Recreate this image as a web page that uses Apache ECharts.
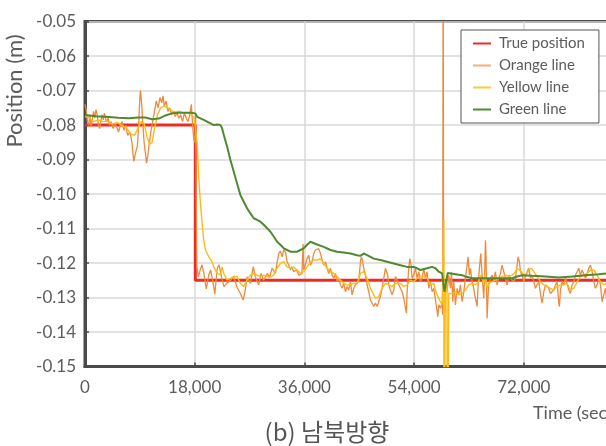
<!DOCTYPE html>
<html>
<head>
<meta charset="utf-8">
<script src="https://cdn.jsdelivr.net/npm/echarts@6/dist/echarts.min.js"></script>
<style>
html,body{margin:0;padding:0;background:#fff;}
#chart{width:606px;height:446px;}
</style>
</head>
<body>
<div id="chart"></div>
<script>
// ---- data (time in sec, position in m) ----
var xTicks = [0, 18000, 36000, 54000, 72000, 90000];
var yTicks = [-0.15, -0.14, -0.13, -0.12, -0.11, -0.10, -0.09, -0.08, -0.07, -0.06, -0.05];

var truePosition = [[0,-0.080],[18100,-0.080],[18100,-0.125],[90000,-0.125]];

var orangeLine = [
[0,-0.0740],[200,-0.0755],[400,-0.0790],[600,-0.0800],[800,-0.0770],[1000,-0.0805],[1200,-0.0785],[1400,-0.0760],[1600,-0.0780],[1800,-0.0755],
[2000,-0.0770],[2200,-0.0800],[2400,-0.0810],[2600,-0.0790],[2800,-0.0770],[3000,-0.0785],[3200,-0.0765],[3500,-0.0790],[3800,-0.0780],[4000,-0.0800],
[4300,-0.0790],[4600,-0.0810],[4900,-0.0795],[5200,-0.0805],[5500,-0.0820],[5800,-0.0800],[6100,-0.0790],[6400,-0.0815],[6700,-0.0800],[7000,-0.0830],
[7400,-0.0820],[7700,-0.0850],[8000,-0.0905],[8300,-0.0880],[8600,-0.0860],[8800,-0.0800],[9000,-0.0720],[9100,-0.0700],[9300,-0.0740],[9500,-0.0800],
[9700,-0.0850],[9900,-0.0880],[10100,-0.0910],[10300,-0.0890],[10500,-0.0860],[10800,-0.0820],[11100,-0.0790],[11400,-0.0760],[11700,-0.0730],[12000,-0.0750],
[12300,-0.0720],[12600,-0.0735],[12800,-0.0715],[13000,-0.0745],[13300,-0.0730],[13600,-0.0760],[13900,-0.0750],[14200,-0.0770],[14500,-0.0760],[14800,-0.0775],
[15100,-0.0765],[15400,-0.0780],[15700,-0.0770],[16000,-0.0790],[16300,-0.0765],[16600,-0.0780],[16900,-0.0790],[17200,-0.0770],[17450,-0.0740],[17650,-0.0800],
[17850,-0.0840],[18000,-0.0850],[18150,-0.0770],[18350,-0.1210],[18600,-0.1240],[18900,-0.1220],[19200,-0.1205],[19500,-0.1230],[19900,-0.1275],[20300,-0.1235],
[20600,-0.1220],[21000,-0.1255],[21300,-0.1290],[21700,-0.1215],[22000,-0.1205],[22400,-0.1240],[22800,-0.1268],[23300,-0.1258],[23900,-0.1250],[24400,-0.1240],
[24950,-0.1270],[25500,-0.1288],[25950,-0.1307],[26300,-0.1278],[26600,-0.1240],[27150,-0.1259],[27600,-0.1210],[27950,-0.1240],[28500,-0.1263],[28900,-0.1230],
[29300,-0.1250],[29900,-0.1230],[30300,-0.1240],[30700,-0.1215],[31250,-0.1230],[31500,-0.1200],[31800,-0.1172],[32050,-0.1165],[32350,-0.1182],[32600,-0.1162],
[32900,-0.1168],[33150,-0.1196],[33450,-0.1206],[33700,-0.1220],[33950,-0.1211],[34250,-0.1225],[34700,-0.1220],[35100,-0.1235],[35600,-0.1230],[35780,-0.1145],
[35900,-0.1220],[36168,-0.1215],[36441,-0.1187],[36714,-0.1177],[36988,-0.1206],[37261,-0.1196],[37535,-0.1172],[37809,-0.1162],[38082,-0.1167],[38356,-0.1158],
[38629,-0.1172],[38903,-0.1191],[39176,-0.1206],[39450,-0.1196],[39723,-0.1215],[39997,-0.1230],[40270,-0.1215],[40544,-0.1235],[40817,-0.1244],[41091,-0.1230],
[41364,-0.1254],[41638,-0.1244],[41911,-0.1263],[42185,-0.1273],[42458,-0.1259],[42732,-0.1283],[43005,-0.1268],[43279,-0.1278],[43552,-0.1254],[43826,-0.1292],
[44099,-0.1273],[44373,-0.1263],[44646,-0.1259],[44920,-0.1254],[45193,-0.1196],[45357,-0.1182],[45521,-0.1191],[45740,-0.1215],[46014,-0.1235],[46287,-0.1263],
[46561,-0.1283],[46834,-0.1307],[47108,-0.1312],[47381,-0.1326],[47655,-0.1316],[47928,-0.1326],[48202,-0.1312],[48475,-0.1297],[48749,-0.1273],[49022,-0.1244],
[49296,-0.1215],[49460,-0.1215],[49679,-0.1235],[49843,-0.1263],[50116,-0.1278],[50390,-0.1292],[50663,-0.1278],[50937,-0.1239],[51210,-0.1244],[51484,-0.1263],
[51757,-0.1273],[52031,-0.1283],[52304,-0.1302],[52578,-0.1330],[52742,-0.1345],[52851,-0.1283],[53125,-0.1215],[53289,-0.1187],[53507,-0.1206],[53671,-0.1244],
[53945,-0.1235],[54218,-0.1215],[54492,-0.1244],[54765,-0.1225],[55039,-0.1254],[55313,-0.1244],[55586,-0.1215],[55860,-0.1244],[56133,-0.1225],[56407,-0.1273],
[56680,-0.1254],[56954,-0.1283],[57227,-0.1273],[57501,-0.1307],[57774,-0.1340],[57884,-0.1355],[58048,-0.1321],[58321,-0.1331],[58595,-0.1316],[58700,-0.1350],
[58760,-0.0200],[58850,-0.1260],[59142,-0.1268],[59416,-0.1283],[59689,-0.1235],[59963,-0.1273],[60127,-0.1225],[60345,-0.1312],[60510,-0.1254],[60783,-0.1321],
[61057,-0.1273],[61330,-0.1292],[61604,-0.1263],[61877,-0.1312],[62151,-0.1283],[62424,-0.1244],[62698,-0.1206],[62862,-0.1182],[63080,-0.1235],[63245,-0.1215],
[63518,-0.1254],[63792,-0.1273],[64065,-0.1302],[64339,-0.1326],[64503,-0.1263],[64721,-0.1215],[64940,-0.1172],[65159,-0.1235],[65433,-0.1302],[65597,-0.1215],
[65706,-0.1134],[65815,-0.1187],[65980,-0.1360],[66144,-0.1292],[66253,-0.1263],[66527,-0.1244],[66800,-0.1235],[67074,-0.1249],[67347,-0.1225],[67621,-0.1263],
[67894,-0.1244],[68168,-0.1230],[68441,-0.1206],[68715,-0.1211],[68988,-0.1244],[69262,-0.1263],[69535,-0.1235],[69809,-0.1244],[70082,-0.1239],[70356,-0.1254],
[70629,-0.1244],[70903,-0.1206],[71067,-0.1182],[71285,-0.1196],[71450,-0.1225],[71723,-0.1235],[71997,-0.1254],[72270,-0.1239],[72544,-0.1225],[72817,-0.1215],
[73091,-0.1244],[73364,-0.1235],[73638,-0.1254],[73911,-0.1273],[74185,-0.1263],[74458,-0.1254],[74732,-0.1288],[75005,-0.1316],[75279,-0.1283],[75552,-0.1263],
[75826,-0.1259],[76099,-0.1273],[76373,-0.1288],[76646,-0.1292],[76920,-0.1278],[77193,-0.1263],[77467,-0.1254],[77740,-0.1316],[77849,-0.1326],[78014,-0.1278],
[78287,-0.1254],[78561,-0.1263],[78834,-0.1244],[79108,-0.1259],[79381,-0.1278],[79655,-0.1288],[79928,-0.1263],[80202,-0.1254],[80475,-0.1235],[80749,-0.1225],
[81022,-0.1215],[81296,-0.1235],[81569,-0.1220],[81843,-0.1225],[82116,-0.1244],[82390,-0.1230],[82663,-0.1215],[82937,-0.1206],[83210,-0.1225],[83484,-0.1254],
[83757,-0.1273],[84031,-0.1263],[84304,-0.1244],[84578,-0.1263],[84851,-0.1312],[85125,-0.1292],[85398,-0.1273],[85562,-0.1302],[86000,-0.1290]
];

var yellowLine = [
[0,-0.0775],[700,-0.0778],[1400,-0.0790],[2200,-0.0785],[3000,-0.0790],[3700,-0.0788],[4500,-0.0797],[5300,-0.0792],[6000,-0.0800],[6800,-0.0808],
[7500,-0.0825],[8100,-0.0830],[8700,-0.0810],[9200,-0.0790],[9700,-0.0795],[10200,-0.0835],[10600,-0.0855],[11000,-0.0850],[11400,-0.0810],[11900,-0.0770],
[12400,-0.0750],[13000,-0.0745],[13600,-0.0750],[14200,-0.0758],[14800,-0.0762],[15500,-0.0760],[16200,-0.0765],[16900,-0.0765],[17400,-0.0770],[17800,-0.0775],
[18100,-0.0800],[18400,-0.0852],[18664,-0.0949],[18937,-0.1026],[19211,-0.1084],[19484,-0.1133],[19758,-0.1162],[20305,-0.1181],[20852,-0.1196],[21125,-0.1211],
[21672,-0.1229],[22219,-0.1234],[22493,-0.1211],[22766,-0.1230],[23313,-0.1249],[23860,-0.1244],[24407,-0.1239],[24954,-0.1239],[25501,-0.1259],[26048,-0.1268],
[26595,-0.1249],[27142,-0.1235],[27689,-0.1230],[28236,-0.1235],[28783,-0.1239],[29330,-0.1235],[29877,-0.1239],[30424,-0.1241],[30971,-0.1235],[31518,-0.1215],
[32065,-0.1201],[32612,-0.1196],[33159,-0.1211],[33706,-0.1215],[34253,-0.1211],[34800,-0.1220],[35347,-0.1230],[35894,-0.1225],[36441,-0.1211],[36988,-0.1198],
[37535,-0.1191],[38082,-0.1191],[38629,-0.1188],[39176,-0.1201],[39723,-0.1215],[40270,-0.1225],[40817,-0.1230],[41364,-0.1239],[41911,-0.1249],[42458,-0.1259],
[43005,-0.1263],[43552,-0.1263],[44099,-0.1259],[44646,-0.1259],[44920,-0.1254],[45193,-0.1230],[45740,-0.1225],[46287,-0.1244],[46834,-0.1273],[47381,-0.1292],
[47655,-0.1302],[48202,-0.1297],[48749,-0.1273],[49296,-0.1259],[49843,-0.1263],[50390,-0.1268],[50937,-0.1259],[51210,-0.1263],[51757,-0.1259],[52304,-0.1268],
[52851,-0.1263],[53398,-0.1249],[53945,-0.1254],[54492,-0.1244],[55039,-0.1239],[55586,-0.1239],[56133,-0.1244],[56680,-0.1263],[57227,-0.1259],[57501,-0.1278],
[57774,-0.1292],[58321,-0.1312],[58595,-0.1321],[58880,-0.1075],[58910,-0.2000],[59120,-0.1290],[59400,-0.1250],[59450,-0.2000],[59689,-0.1288],[60236,-0.1288],
[60783,-0.1283],[61330,-0.1292],[61877,-0.1288],[62424,-0.1278],[62971,-0.1263],[63518,-0.1259],[64065,-0.1263],[64612,-0.1254],[64886,-0.1235],[65159,-0.1244],
[65433,-0.1259],[65597,-0.1235],[65980,-0.1273],[66253,-0.1259],[66800,-0.1254],[67347,-0.1249],[67894,-0.1244],[68441,-0.1239],[68988,-0.1235],[69535,-0.1239],
[70082,-0.1235],[70629,-0.1225],[70903,-0.1215],[71176,-0.1220],[71614,-0.1225],[71997,-0.1235],[72544,-0.1230],[72817,-0.1220],[73255,-0.1215],[73638,-0.1225],
[74185,-0.1239],[74732,-0.1254],[75279,-0.1263],[75826,-0.1268],[76373,-0.1273],[76920,-0.1278],[77467,-0.1268],[78014,-0.1263],[78561,-0.1263],[79108,-0.1259],
[79655,-0.1278],[80202,-0.1273],[80749,-0.1254],[81296,-0.1239],[81843,-0.1235],[82390,-0.1230],[82937,-0.1220],[83210,-0.1215],[83484,-0.1220],[84031,-0.1235],
[84578,-0.1254],[85125,-0.1263],[85562,-0.1259],[86000,-0.1262]
];

var greenLine = [
[0,-0.0771],[1700,-0.0774],[3350,-0.0776],[5500,-0.0779],[7200,-0.0780],[8800,-0.0778],[9900,-0.0778],[11000,-0.0783],[12100,-0.0781],[13200,-0.0772],
[14300,-0.0766],[15400,-0.0764],[16500,-0.0764],[17500,-0.0764],[18100,-0.0766],[18390,-0.0776],[19484,-0.0785],[20578,-0.0795],[21125,-0.0800],[21672,-0.0798],
[22219,-0.0800],[22493,-0.0809],[22766,-0.0828],[23313,-0.0862],[23860,-0.0901],[24407,-0.0935],[24954,-0.0969],[25501,-0.1003],[26048,-0.1022],[26595,-0.1041],
[27142,-0.1056],[27689,-0.1070],[28236,-0.1075],[28783,-0.1080],[29330,-0.1089],[29877,-0.1099],[30424,-0.1109],[30971,-0.1123],[31518,-0.1138],[32065,-0.1147],
[32612,-0.1157],[33159,-0.1162],[33706,-0.1167],[34253,-0.1167],[34800,-0.1167],[35347,-0.1162],[35894,-0.1157],[36441,-0.1147],[36988,-0.1138],[38082,-0.1146],
[39176,-0.1153],[40270,-0.1162],[41364,-0.1167],[42458,-0.1169],[43552,-0.1172],[44646,-0.1177],[45193,-0.1179],[45740,-0.1172],[46287,-0.1177],[47381,-0.1187],
[48475,-0.1191],[49569,-0.1196],[50663,-0.1201],[51757,-0.1206],[52851,-0.1211],[53945,-0.1211],[54492,-0.1215],[55039,-0.1220],[56133,-0.1215],[56954,-0.1211],
[57501,-0.1215],[58048,-0.1225],[58595,-0.1230],[58900,-0.1232],[58978,-0.1283],[59300,-0.1280],[59500,-0.1229],[61877,-0.1235],[62424,-0.1239],[63518,-0.1244],
[66000,-0.1244],[68000,-0.1244],[70082,-0.1244],[70903,-0.1239],[71723,-0.1235],[73364,-0.1237],[75552,-0.1239],[77740,-0.1242],[79928,-0.1239],[82116,-0.1235],
[84304,-0.1232],[85562,-0.1230],[86500,-0.1230]
];

var seriesNames = ['True position', 'Orange line', 'Yellow line', 'Green line'];
var yAxisTitle = 'Position (m)';
var xAxisTitle = 'Time (sec)';
var captionText = '(b) 남북방향';

// ---- chart ----
var chart = echarts.init(document.getElementById('chart'), null, {renderer: 'canvas'});
var latin = 'Lato, "Noto Sans", sans-serif';
var labelColor = '#5c5c5c';

var option = {
  animation: false,
  backgroundColor: '#ffffff',
  grid: {
    left: 85, top: 21.6, width: 548.5, height: 345,
    containLabel: false, outerBoundsMode: 'none',
    show: true, borderColor: '#4a4a4a', borderWidth: 3, backgroundColor: 'transparent'
  },
  xAxis: {
    type: 'value',
    min: xTicks[0], max: xTicks[xTicks.length - 1], interval: 18000,
    axisLine: {show: true, lineStyle: {color: '#4a4a4a', width: 3}},
    axisTick: {show: true, inside: true, length: 4, lineStyle: {color: '#4a4a4a', width: 1.5}},
    splitLine: {show: true, lineStyle: {color: '#d9d9d9', width: 1.5}},
    axisLabel: {
      color: labelColor, fontFamily: latin, fontSize: 17, margin: 12,
      formatter: function (v) { return v.toLocaleString('en-US'); }
    }
  },
  yAxis: {
    type: 'value',
    min: yTicks[0], max: yTicks[yTicks.length - 1], interval: 0.01,
    axisLine: {show: true, lineStyle: {color: '#4a4a4a', width: 3}},
    axisTick: {show: true, inside: true, length: 4, lineStyle: {color: '#4a4a4a', width: 1.5}},
    splitLine: {show: true, lineStyle: {color: '#d9d9d9', width: 1.5}},
    axisLabel: {
      color: labelColor, fontFamily: latin, fontSize: 17, margin: 9,
      formatter: function (v) { return v.toFixed(2); }
    }
  },
  legend: {
    orient: 'vertical',
    left: 461, top: 30,
    padding: [6, 14, 6, 12],
    itemGap: 7,
    itemWidth: 18, itemHeight: 2,
    backgroundColor: '#ffffff',
    borderColor: '#555555', borderWidth: 1, borderRadius: 0,
    icon: 'rect',
    textStyle: {color: labelColor, fontFamily: latin, fontSize: 15, padding: [0, 0, 0, 3]},
    data: [
      {name: seriesNames[0], itemStyle: {color: '#ee2a24'}},
      {name: seriesNames[1], itemStyle: {color: '#f4ad82'}},
      {name: seriesNames[2], itemStyle: {color: '#fbc93a'}},
      {name: seriesNames[3], itemStyle: {color: '#4e8a30'}}
    ]
  },
  graphic: [
    {type: 'text', x: 15, y: 91, rotation: Math.PI / 2,
     style: {text: yAxisTitle, fill: labelColor, font: '22px Lato, "Noto Sans", sans-serif', textAlign: 'center', textVerticalAlign: 'middle'}},
    {type: 'text', x: 533, y: 413,
     style: {text: xAxisTitle, fill: labelColor, font: '18px Lato, "Noto Sans", sans-serif', textAlign: 'left', textVerticalAlign: 'middle'}},
    {type: 'text', x: 327, y: 432,
     style: {text: captionText, fill: '#555555', font: '24px "Noto Sans CJK KR", "Noto Sans", sans-serif', textAlign: 'center', textVerticalAlign: 'middle'}}
  ],
  series: [
    {name: seriesNames[0], type: 'line', data: truePosition, showSymbol: false, symbol: 'none',
     lineStyle: {color: '#ee2a24', width: 3}, itemStyle: {color: '#ee2a24'}, z: 2},
    {name: seriesNames[1], type: 'line', data: orangeLine, showSymbol: false, symbol: 'none',
     lineStyle: {color: '#ef8a3c', width: 1.3}, itemStyle: {color: '#ef8a3c'}, z: 3},
    {name: seriesNames[2], type: 'line', data: yellowLine, showSymbol: false, symbol: 'none',
     lineStyle: {color: '#fbbc15', width: 1.4}, itemStyle: {color: '#fbbc15'}, z: 4},
    {name: seriesNames[3], type: 'line', data: greenLine, showSymbol: false, symbol: 'none',
     lineStyle: {color: '#4e8a30', width: 2}, itemStyle: {color: '#4e8a30'}, z: 5}
  ]
};
chart.setOption(option);
</script>
</body>
</html>
